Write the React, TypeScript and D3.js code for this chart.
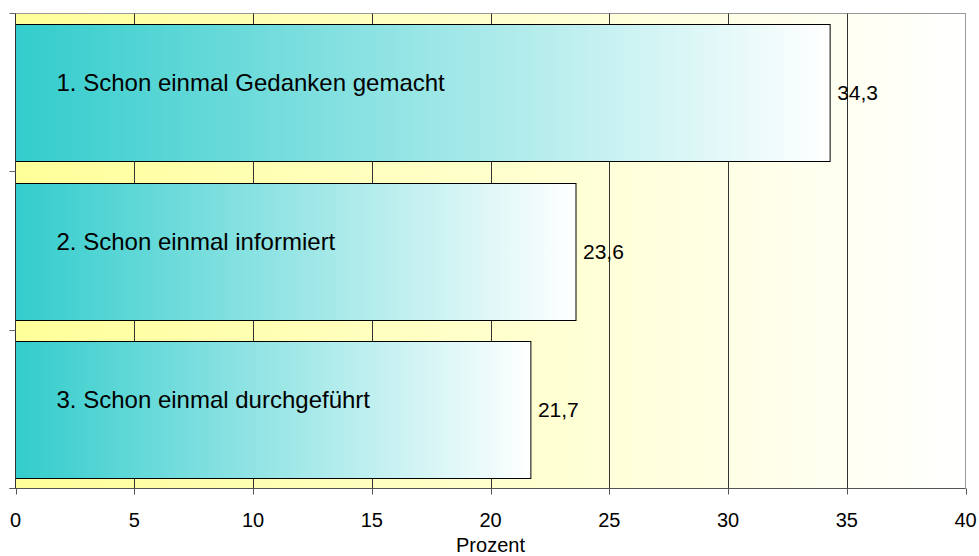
import React, { useEffect, useRef } from 'react';
import * as d3 from 'd3';

// Chart data
const CATEGORIES = [
  '1. Schon einmal Gedanken gemacht',
  '2. Schon einmal informiert',
  '3. Schon einmal durchgeführt'
];
const VALUES = [34.3, 23.6, 21.7];
const VALUE_LABELS = ['34,3', '23,6', '21,7'];
const X_TICKS = [0, 5, 10, 15, 20, 25, 30, 35, 40];
const X_TITLE = 'Prozent';

const WIDTH = 979;
const HEIGHT = 556;
const FONT = 'Arial, "Liberation Sans", sans-serif';

const drawChart = (svgEl: SVGSVGElement) => {
  const svg = d3.select(svgEl);
  svg.selectAll('*').remove();

  const plot = { left: 15.5, right: 965.5, top: 13.5, bottom: 488.5 };

  const x = d3.scaleLinear().domain([0, 40]).range([plot.left, plot.right]);
  const y = d3.scaleBand()
    .domain(CATEGORIES)
    .range([plot.top, plot.bottom])
    .paddingInner(0.135)
    .paddingOuter(0.0675);

  // Gradients
  const defs = svg.append('defs');
  const bg = defs.append('linearGradient').attr('id', 'plotBg')
    .attr('x1', '0').attr('x2', '1').attr('y1', '0').attr('y2', '0');
  bg.append('stop').attr('offset', '0%').attr('stop-color', '#FFFF99');
  bg.append('stop').attr('offset', '100%').attr('stop-color', '#FFFFFF');

  const barGrad = defs.append('linearGradient').attr('id', 'barGrad')
    .attr('x1', '0').attr('x2', '1').attr('y1', '0').attr('y2', '0');
  barGrad.append('stop').attr('offset', '0%').attr('stop-color', '#33CCCC');
  barGrad.append('stop').attr('offset', '100%').attr('stop-color', '#FFFFFF');

  // Plot background
  svg.append('rect')
    .attr('x', plot.left).attr('y', plot.top)
    .attr('width', plot.right - plot.left).attr('height', plot.bottom - plot.top)
    .attr('fill', 'url(#plotBg)')
    .attr('stroke', '#999')
    .attr('stroke-width', 1);

  // Vertical gridlines
  svg.append('g')
    .selectAll('line')
    .data(X_TICKS.filter(t => t > 0 && t < 40))
    .enter().append('line')
    .attr('x1', d => Math.round(x(d)) + 0.5).attr('x2', d => Math.round(x(d)) + 0.5)
    .attr('y1', plot.top).attr('y2', plot.bottom)
    .attr('stroke', '#333')
    .attr('stroke-width', 1);

  // Bars
  svg.append('g')
    .selectAll('rect')
    .data(CATEGORIES)
    .enter().append('rect')
    .attr('x', plot.left)
    .attr('y', d => Math.round(y(d)!) + 0.5)
    .attr('width', (d, i) => x(VALUES[i]) - plot.left)
    .attr('height', Math.round(y.bandwidth()))
    .attr('fill', 'url(#barGrad)')
    .attr('stroke', '#000')
    .attr('stroke-width', 1);

  // Category labels inside bars
  svg.append('g')
    .selectAll('text')
    .data(CATEGORIES)
    .enter().append('text')
    .attr('x', plot.left + 41)
    .attr('y', d => y(d)! + y.bandwidth() / 2 - 1.5)
    .attr('font-family', FONT)
    .attr('font-size', 24)
    .attr('fill', '#000')
    .text(d => d);

  // Value labels
  svg.append('g')
    .selectAll('text')
    .data(CATEGORIES)
    .enter().append('text')
    .attr('x', (d, i) => x(VALUES[i]) + 7)
    .attr('y', d => y(d)! + y.bandwidth() / 2 + 7.5)
    .attr('font-family', FONT)
    .attr('font-size', 21)
    .attr('fill', '#000')
    .text((d, i) => VALUE_LABELS[i]);

  // Left axis line + ticks
  svg.append('line')
    .attr('x1', plot.left).attr('x2', plot.left)
    .attr('y1', plot.top).attr('y2', plot.bottom)
    .attr('stroke', '#333').attr('stroke-width', 1);
  const bandEdges = CATEGORIES.map(c => y(c)! - y.step() * y.paddingInner() / 2);
  bandEdges.push(plot.bottom);
  svg.append('g')
    .selectAll('line')
    .data(bandEdges)
    .enter().append('line')
    .attr('x1', plot.left - 6).attr('x2', plot.left)
    .attr('y1', d => Math.round(d - 0.5) + 0.5).attr('y2', d => Math.round(d - 0.5) + 0.5)
    .attr('stroke', '#666').attr('stroke-width', 1);

  // Bottom axis
  const xAxis = svg.append('g').attr('transform', `translate(0,${plot.bottom})`);
  xAxis.append('line')
    .attr('x1', plot.left - 6).attr('x2', plot.right)
    .attr('stroke', '#555').attr('stroke-width', 1);
  xAxis.selectAll('line.tick')
    .data(X_TICKS)
    .enter().append('line')
    .attr('class', 'tick')
    .attr('x1', d => Math.round(x(d)) + 0.5).attr('x2', d => Math.round(x(d)) + 0.5)
    .attr('y1', 0).attr('y2', 6)
    .attr('stroke', '#555').attr('stroke-width', 1);
  xAxis.selectAll('text')
    .data(X_TICKS)
    .enter().append('text')
    .attr('x', d => x(d))
    .attr('y', 38.5)
    .attr('text-anchor', 'middle')
    .attr('font-family', FONT)
    .attr('font-size', 20)
    .attr('fill', '#000')
    .text(d => String(d));

  svg.append('text')
    .attr('x', (plot.left + plot.right) / 2)
    .attr('y', 552)
    .attr('text-anchor', 'middle')
    .attr('font-family', FONT)
    .attr('font-size', 20)
    .attr('fill', '#000')
    .text(X_TITLE);
};

const App = () => {
  const svgRef = useRef<SVGSVGElement>(null);

  useEffect(() => {
    if (svgRef.current) drawChart(svgRef.current);
  }, []);

  return (
    <svg
      ref={svgRef}
      width={WIDTH}
      height={HEIGHT}
      style={{ position: 'absolute', left: 0, top: 0, background: '#fff' }}
    />
  );
};

export default App;
